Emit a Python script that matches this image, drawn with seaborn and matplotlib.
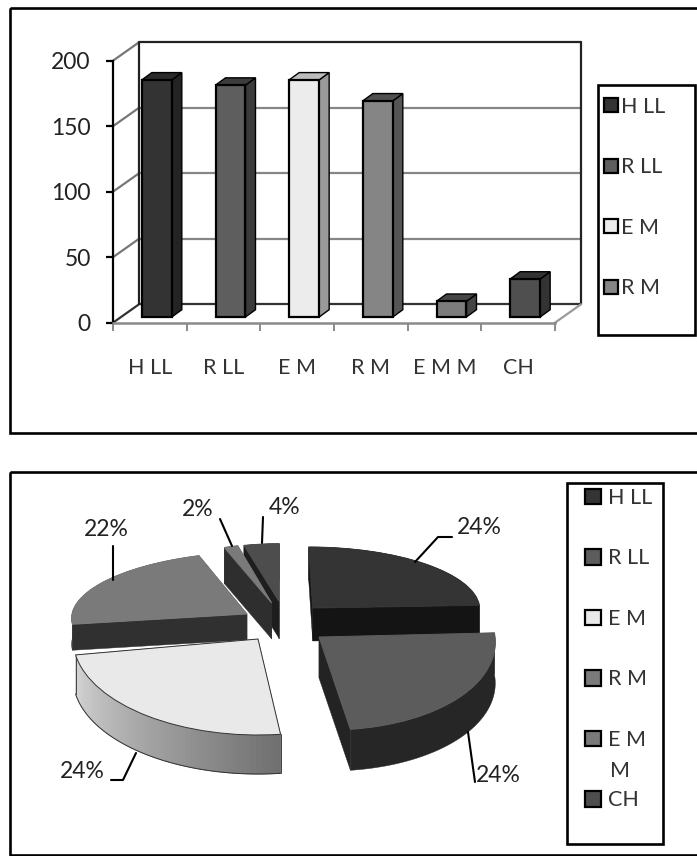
import numpy as np
import pandas as pd
import matplotlib
matplotlib.use('Agg')
import matplotlib.pyplot as plt
from matplotlib.patches import Rectangle
from matplotlib.transforms import Affine2D
import seaborn as sns

# values
categories = ['H LL', 'R LL', 'E M', 'R M', 'E M M', 'CH']
values = [181, 177, 181, 165, 12, 29]
y_ticks = [0, 50, 100, 150, 200]

front_colors = ['#333333', '#5e5e5e', '#ececec', '#858585', '#7c7c7c', '#4f4f4f']
side_colors = ['#232323', '#3b3b3b', '#9a9a9a', '#555555', '#444444', '#333333']
top_colors = ['#2a2a2a', '#3c3c3c', '#bdbdbd', '#505050', '#454545', '#333333']
pie_colors = ['#343434', '#5c5c5c', '#e9e9e9', '#7a7a7a', '#7a7a7a', '#4d4d4d']

sns.set_style('white')
plt.rcParams['font.family'] = ['Lato', 'DejaVu Sans']
FS = 15.5

W, H = 697, 856
fig = plt.figure(figsize=(W / 100, H / 100), dpi=100)

# whole figure axes in pixels, holds frames, legends and the pie
bg = fig.add_axes([0, 0, 1, 1])

# Step 1: bar chart, front plane of the fake 3d box
left, right, base, top = 113, 555, 322.7, 60.7
ax = fig.add_axes([left / W, 1 - base / H, (right - left) / W, (base - top) / H])
ax.patch.set_alpha(0)
df = pd.DataFrame({'cat': categories, 'val': values})
sns.barplot(data=df, x='cat', y='val', hue='cat', palette=front_colors, legend=False,
            width=0.407, edgecolor='black', linewidth=1.6, saturation=1, ax=ax, zorder=5)
ax.set_xlim(-0.5, 5.5)
ax.set_ylim(0, 200)
ax.set_xlabel('')
ax.set_ylabel('')

xpx = 6 / (right - left)
ypx = 200 / (base - top)
wall_dx, wall_dy = 26 * xpx, 18.4 * ypx

# back wall, side wall, floor
for v in y_ticks:
    c = '#868686'
    lw = 1.6
    if v in (0, 200):
        c = '#222222' if v == 200 else '#333333'
    ax.plot([-0.5 + wall_dx, 5.5 + wall_dx], [v + wall_dy] * 2, color=c, lw=lw, clip_on=False, zorder=1)
    ax.plot([-0.5, -0.5 + wall_dx], [v, v + wall_dy], color='#777777' if v else '#333333', lw=lw, clip_on=False, zorder=1)
ax.plot([-0.5 + wall_dx] * 2, [wall_dy, 200 + wall_dy], color='#222222', lw=1.6, clip_on=False, zorder=1)
ax.plot([5.5 + wall_dx] * 2, [wall_dy, 200 + wall_dy], color='#222222', lw=1.6, clip_on=False, zorder=1)
ax.plot([5.5, 5.5 + wall_dx], [0, wall_dy], color='#9a9a9a', lw=1.6, clip_on=False, zorder=1)

# move the bars off the front plane and give them a top and a side
off_x, off_y = 7 * xpx, 5.7 * ypx
dx, dy = 10 * xpx, 7.3 * ypx
for i, p in enumerate(ax.patches):
    p.set_x(p.get_x() + off_x)
    p.set_y(off_y)
    x0, x1 = p.get_x(), p.get_x() + p.get_width()
    y0, y1 = off_y, off_y + p.get_height()
    ax.fill([x1, x1 + dx, x1 + dx, x1], [y0, y0 + dy, y1 + dy, y1], facecolor=side_colors[i],
            edgecolor='black', lw=1.0, clip_on=False, zorder=4)
    ax.fill([x0, x1, x1 + dx, x0 + dx], [y1, y1, y1 + dy, y1 + dy], facecolor=top_colors[i],
            edgecolor='black', lw=1.0, clip_on=False, zorder=4)

sns.despine(ax=ax, top=True, right=True)
ax.spines['left'].set_color('black')
ax.spines['left'].set_linewidth(1.6)
ax.spines['bottom'].set_color('#8a8a8a')
ax.spines['bottom'].set_linewidth(1.8)
ax.set_yticks(y_ticks)
ax.tick_params(axis='y', left=True, length=5, width=1.6, color='black', pad=11, labelsize=FS + 1, labelcolor='#222222')
ax.set_xticks(range(6))
ax.set_xticklabels(categories)
ax.set_xticks(np.arange(-0.5, 6), minor=True)
ax.tick_params(axis='x', which='major', bottom=False, pad=22, labelsize=FS, labelcolor='#333333')
ax.tick_params(axis='x', which='minor', bottom=True, length=6, width=1.4, color='#8a8a8a')

# Step 2: exploded pie, every slice gets its own centre and squash
slice_order = [3, 0, 5, 4, 2, 1]
centers = [(312.7, 608), (319, 637), (258, 639), (247, 614), (271.7, 603), (279.3, 601.7)]
radii = [(167, 61), (176, 93), (185, 96), (175, 62), (140, 59), (146, 58)]
skews = [-4, -10, 0, 12, 0, 0]
depths = [33, 41, 39, 26, 36, 37]
cut_colors = ['#141414', '#232323', '#8c8c8c', '#303030', '#2e2e2e', '#1e1e1e']
arc_colors = [('#141414', '#141414'), ('#262626', '#262626'), ('#d8d8d8', '#707070'),
              ('#303030', '#303030'), ('#2e2e2e', '#2e2e2e'), ('#1e1e1e', '#1e1e1e')]

wedges, _ = bg.pie(values, colors=pie_colors, startangle=90, counterclock=False)
bg.set_aspect('auto')
bg.set_xlim(0, W)
bg.set_ylim(H, 0)
bg.axis('off')

for k, i in enumerate(slice_order):
    w = wedges[i]
    cx, cy = centers[i]
    rx, ry = radii[i]
    sk = skews[i]
    d = depths[i]
    z = 2 + k
    t = np.radians(np.linspace(w.theta1, w.theta2, 60))
    ax_x = cx + rx * np.cos(t) + sk * np.sin(t)
    ax_y = cy - ry * np.sin(t)
    # cut faces
    for ex, ey in [(ax_x[0], ax_y[0]), (ax_x[-1], ax_y[-1])]:
        bg.fill([cx, ex, ex, cx], [cy, ey, ey + d, cy + d], color=cut_colors[i], lw=0.3, zorder=z)
    # outer wall, a flat polygon first, then strips when it shades
    c0 = np.array(matplotlib.colors.to_rgb(arc_colors[i][0]))
    c1 = np.array(matplotlib.colors.to_rgb(arc_colors[i][1]))
    bg.fill(np.r_[ax_x, ax_x[::-1]], np.r_[ax_y, ax_y[::-1] + d], color=(c0 + c1) / 2, lw=0.3, zorder=z)
    if i == 2:
        for j in range(len(t) - 1):
            s = j / (len(t) - 2)
            bg.fill([ax_x[j], ax_x[j + 1], ax_x[j + 1], ax_x[j]],
                    [ax_y[j], ax_y[j + 1], ax_y[j + 1] + d, ax_y[j] + d],
                    color=c0 * (1 - s) + c1 * s, lw=0.6, zorder=z)
        bg.plot(ax_x, ax_y + d, color='#333333', lw=0.7, zorder=z)
        bg.plot([ax_x[-1], ax_x[-1]], [ax_y[-1], ax_y[-1] + d], color='#444444', lw=0.7, zorder=z)
        bg.plot([ax_x[0], ax_x[0]], [ax_y[0], ax_y[0] + d], color='#444444', lw=0.7, zorder=z)
    # the top surface is the wedge from the pie itself
    m = np.array([[rx, sk, cx], [0, -ry, cy], [0, 0, 1]], dtype=float)
    w.set_transform(Affine2D(m) + bg.transData)
    w.set_clip_on(False)
    w.set_zorder(z + 0.5)
    w.set_edgecolor('#333333' if i == 2 else pie_colors[i])
    w.set_linewidth(0.7)

# percent labels with their leader lines
total = sum(values)
label_pos = [(479, 528), (498, 775), (82, 772), (106, 530), (198, 510), (285, 507)]
leaders = [([415, 438, 452], [562, 537, 537]), ([468, 475], [732, 782]),
           ([136, 123, 111], [753, 780, 780]), ([113, 113], [546, 580]),
           ([220, 232], [519, 546]), ([263, 262], [517, 543])]
for i, v in enumerate(values):
    bg.text(label_pos[i][0], label_pos[i][1], f'{round(v / total * 100)}%', fontsize=FS + 1,
            ha='center', va='center', color='#222222', zorder=20)
    bg.plot(leaders[i][0], leaders[i][1], color='black', lw=1.5, zorder=20)

# Step 3: panel frames and legends
for (x0, y0, x1, y1) in [(10, 8, 720, 433), (10, 472, 720, 855), (598, 85, 695, 335), (567, 483, 663, 844)]:
    bg.add_patch(Rectangle((x0, y0), x1 - x0, y1 - y0, facecolor='none', edgecolor='black', lw=1.9, clip_on=False, zorder=0.5))

leg_top = bg.legend(ax.patches[:4], categories[:4], loc='upper left', bbox_to_anchor=(604 / W, 1 - 97 / H),
                    bbox_transform=fig.transFigure, frameon=False, fontsize=FS, borderpad=0, borderaxespad=0,
                    handlelength=0.63, handleheight=0.63, handletextpad=0.15, labelspacing=1.88, labelcolor='#333333')
bg.add_artist(leg_top)
leg_bot = bg.legend(wedges, ['H LL', 'R LL', 'E M', 'R M', 'E M', 'CH'], loc='upper left',
                    bbox_to_anchor=(585 / W, 1 - 488 / H), bbox_transform=fig.transFigure, frameon=False,
                    fontsize=FS, borderpad=0, borderaxespad=0, handlelength=0.74, handleheight=0.74,
                    handletextpad=0.35, labelspacing=1.88, labelcolor='#333333')
for h, c in zip(leg_bot.legend_handles, pie_colors):
    h.set_facecolor(c)
    h.set_edgecolor('black')
    h.set_linewidth(1.6)
for h, c in zip(leg_top.legend_handles, front_colors):
    h.set_facecolor(c)
    h.set_edgecolor('black')
    h.set_linewidth(1.6)
bg.text(610, 771, 'M', fontsize=FS, ha='left', va='center', color='#333333', zorder=20)

fig.savefig('out.png', dpi=100)
